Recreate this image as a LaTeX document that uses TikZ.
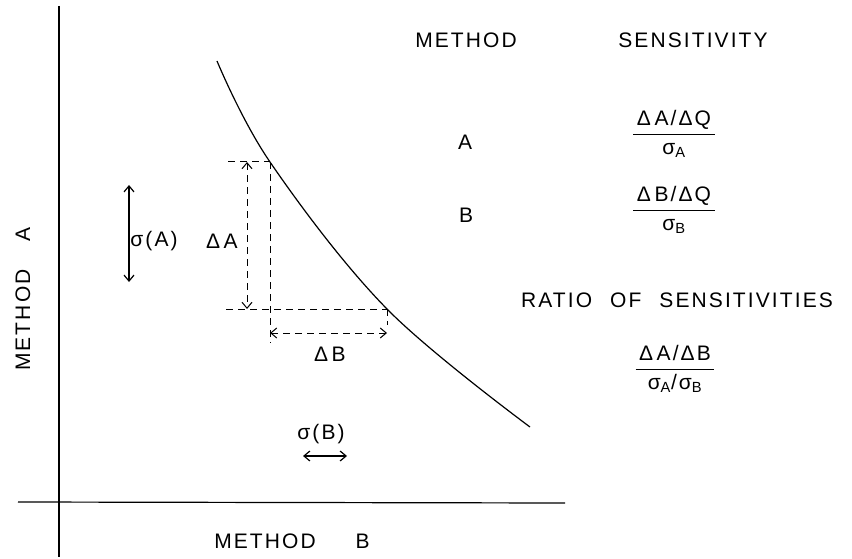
\documentclass[tikz,border=0pt]{standalone}
\usepackage{amsmath}
\usepackage{fontspec}
\setmainfont{Liberation Sans}
\newfontfamily\lettering[LetterSpace=10]{Liberation Sans}
\usetikzlibrary{arrows.meta}
\newcommand{\sensfrac}[2]{$\genfrac{}{}{1pt}{0}{\text{\,#1\,}}{\text{#2}}$}

\begin{document}
\begin{tikzpicture}[x=1pt,y=-1pt,
  every node/.style={inner sep=1pt,font=\lettering\fontsize{21}{24}\selectfont},
  >={Straight Barb[length=6pt,width=10pt]},
  line width=1.2pt,
  guide/.style={dash pattern=on 7pt off 5pt,line width=1pt}]
\useasboundingbox (0,0) rectangle (852,559);
% axes
\coordinate (ytop) at (59,6);
\coordinate (ybot) at (59,557);
\coordinate (xleft) at (18,502);
\coordinate (xright) at (565,503);
\draw (ytop)--(ybot);
\draw (xleft)--(xright);
\node (methA) at (23,299) [rotate=90] {METHOD\hspace{28pt}A};
\node (methB) at (292,541) {METHOD\hspace{40pt}B};
% calibration curve
\coordinate (cstart) at (217,61);
\coordinate (hi) at (270,162);
\coordinate (lo) at (387,309);
\coordinate (cend) at (530,427);
\draw plot[smooth,tension=0.6] coordinates {(cstart) (hi) (lo) (cend)};
% construction lines
\coordinate (hileft) at (228,162);
\coordinate (hidown) at (270,343);
\coordinate (loleft) at (226,309);
\coordinate (lodown) at (387,325);
\coordinate (dAtop) at (247,162);
\coordinate (dAbot) at (247,309);
\coordinate (dBleft) at (270,333);
\coordinate (dBright) at (387,333);
\draw[guide] (hileft)--(hi);
\draw[guide] (hi)--(hidown);
\draw[guide] (loleft)--(lo);
\draw[guide] (lo)--(lodown);
\draw[guide,<->] (dAtop)--(dAbot);
\draw[guide,<->] (dBleft)--(dBright);
\node (dA) at (222,241) {Δ\,A};
\node (dB) at (330,354) {Δ\,B};
% standard deviations
\coordinate (sAtop) at (129,185);
\coordinate (sAbot) at (129,282);
\coordinate (sBleft) at (303,456);
\coordinate (sBright) at (347,456);
\draw[<->] (sAtop)--(sAbot);
\draw[<->] (sBleft)--(sBright);
\node (sA) at (154,241) {σ(A)};
\node (sB) at (321,434) {σ(B)};
% table
\node (hdmeth) at (466,40) {METHOD};
\node (hdsens) at (693,40) {SENSITIVITY};
\node (rowA) at (465,142) {A};
\node (rowB) at (466,215) {B};
\node (sensA) at (674,134) {\sensfrac{Δ\,A/ΔQ}{σ$_{\text{A}}$}};
\node (sensB) at (674,210) {\sensfrac{Δ\,B/ΔQ}{σ$_{\text{B}}$}};
\node (ratio) at (677,300) {RATIO\hspace{18pt}OF\hspace{18pt}SENSITIVITIES};
\node (sensAB) at (675,369) {\sensfrac{Δ\,A/ΔB}{σ$_{\text{A}}$/σ$_{\text{B}}$}};
\end{tikzpicture}
\end{document}
